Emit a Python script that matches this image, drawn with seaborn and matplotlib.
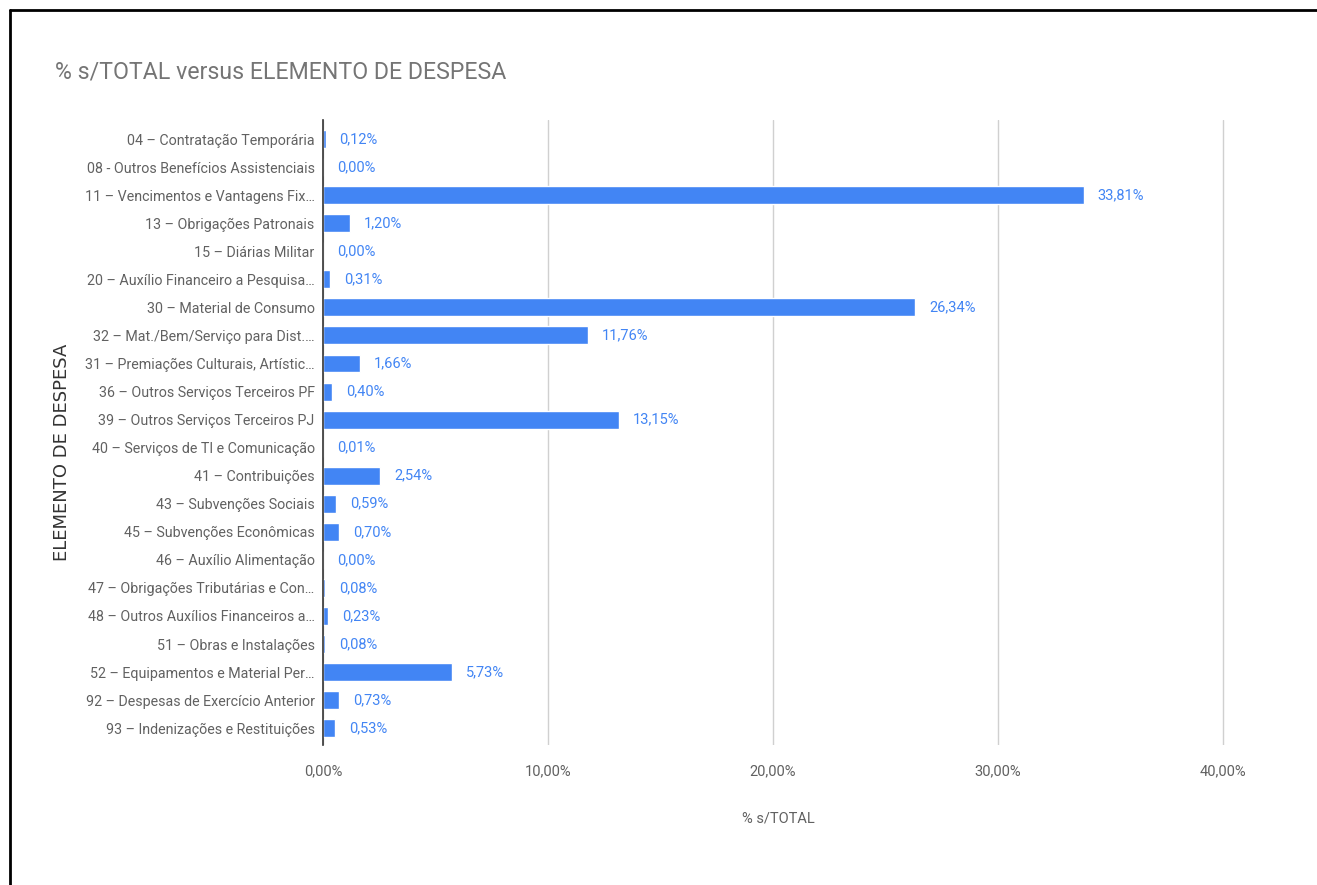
import matplotlib
matplotlib.use("Agg")
import matplotlib.pyplot as plt
from matplotlib.lines import Line2D
import seaborn as sns
import pandas as pd

categories = [
    "04 – Contratação Temporária",
    "08 - Outros Benefícios Assistenciais",
    "11 – Vencimentos e Vantagens Fix…",
    "13 – Obrigações Patronais",
    "15 – Diárias Militar",
    "20 – Auxílio Financeiro a Pesquisa…",
    "30 – Material de Consumo",
    "32 – Mat./Bem/Serviço para Dist.…",
    "31 – Premiações Culturais, Artístic…",
    "36 – Outros Serviços Terceiros PF",
    "39 – Outros Serviços Terceiros PJ",
    "40 – Serviços de TI e Comunicação",
    "41 – Contribuições",
    "43 – Subvenções Sociais",
    "45 – Subvenções Econômicas",
    "46 – Auxílio Alimentação",
    "47 – Obrigações Tributárias e Con…",
    "48 – Outros Auxílios Financeiros a…",
    "51 – Obras e Instalações",
    "52 – Equipamentos e Material Per…",
    "92 – Despesas de Exercício Anterior",
    "93 – Indenizações e Restituições",
]
values = [0.12, 0.00, 33.81, 1.20, 0.00, 0.31, 26.34, 11.76, 1.66, 0.40, 13.15,
          0.01, 2.54, 0.59, 0.70, 0.00, 0.08, 0.23, 0.08, 5.73, 0.73, 0.53]
x_ticks = [0, 10, 20, 30, 40]
x_tick_labels = ["0,00%", "10,00%", "20,00%", "30,00%", "40,00%"]

df = pd.DataFrame({"ELEMENTO DE DESPESA": categories, "% s/TOTAL": values})

sns.set_theme(style="white")
plt.rcParams["font.family"] = ["Roboto", "DejaVu Sans"]

BLUE = "#4285F4"
GRAY = "#616161"

fig = plt.figure(figsize=(13.17, 8.85), dpi=100)
ax = fig.add_axes([323 / 1317, 1 - 745 / 885, 911 / 1317, 625 / 885])

sns.barplot(data=df, y="ELEMENTO DE DESPESA", x="% s/TOTAL", orient="h",
            color=BLUE, saturation=1, width=0.64, ax=ax, zorder=3)

ax.set_xlim(0, 40.5)
ax.set_ylim(21.6, -0.68)
ax.set_xticks(x_ticks)
ax.set_xticklabels(x_tick_labels, color=GRAY, fontsize=10.5)
ax.tick_params(axis="x", length=0, pad=14)
ax.tick_params(axis="y", length=0, pad=6, labelsize=10.3, labelcolor=GRAY)
ax.grid(axis="x", color="#d0d0d0", linewidth=1, zorder=0)
ax.grid(axis="y", visible=False)
for s in ["top", "right", "bottom"]:
    ax.spines[s].set_visible(False)
ax.spines["left"].set_color("#333333")
ax.spines["left"].set_linewidth(1.2)
ax.spines["left"].set_zorder(4)

labels = [f"{v:.2f}%".replace(".", ",") for v in values]
ax.bar_label(ax.containers[0], labels=labels, padding=10, color=BLUE, fontsize=10.5)

ax.set_xlabel("% s/TOTAL", color=GRAY, fontsize=10.5, labelpad=24)
ax.set_ylabel("")
fig.text(62 / 1317, 1 - 452 / 885, "ELEMENTO DE DESPESA", rotation=90,
         ha="center", va="center", color="#333333", fontsize=13,
         family=["DejaVu Sans"])

fig.text(55 / 1317, 1 - 72 / 885, "% s/TOTAL versus ELEMENTO DE DESPESA",
         ha="left", va="center", color="#757575", fontsize=16.7)

fig.add_artist(Line2D([10 / 1317, 1], [1 - 10 / 885, 1 - 10 / 885],
                      transform=fig.transFigure, color="black", linewidth=2))
fig.add_artist(Line2D([10 / 1317, 10 / 1317], [0, 1 - 10 / 885],
                      transform=fig.transFigure, color="black", linewidth=2))

fig.savefig("out.png", dpi=100)
